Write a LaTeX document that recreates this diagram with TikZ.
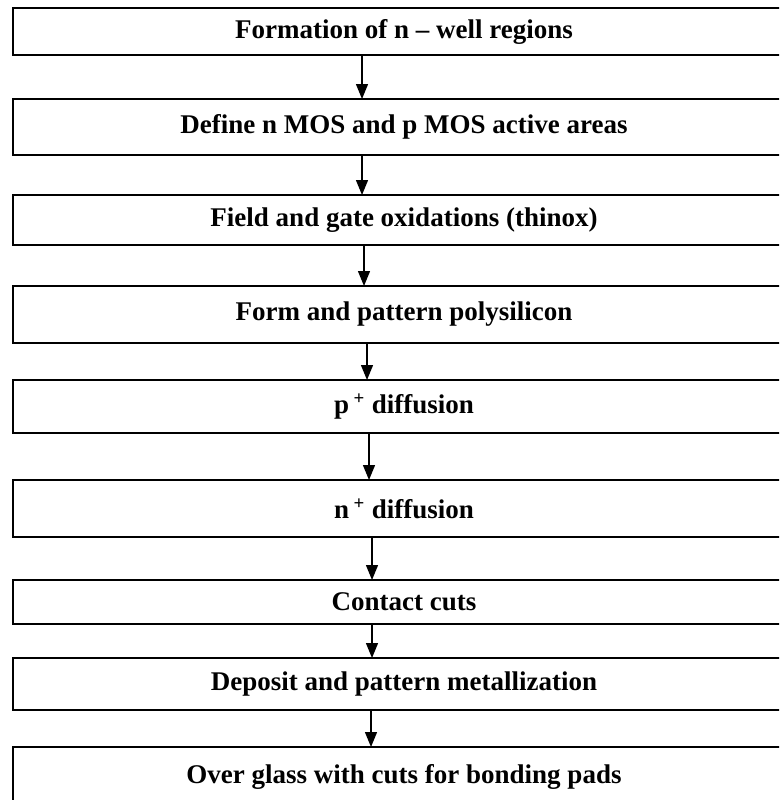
\documentclass[tikz,border=0pt]{standalone}
\usepackage{fontspec}
\setmainfont{Liberation Serif}
\usetikzlibrary{positioning,arrows.meta}

\begin{document}
\begin{tikzpicture}[x=1pt, y=-1pt, >={Triangle[length=15pt,width=12pt]},
  font=\fontsize{27}{32}\selectfont\bfseries,
  stepbox/.style={draw, line width=2pt, minimum width=782pt, inner sep=0pt, outer sep=0pt, align=center},
  flow/.style={->, line width=1.3pt}]
\useasboundingbox (0,0) rectangle (779,800);
\clip (0,0) rectangle (779,800);
% process steps
\node[stepbox, minimum height=47pt] (s1) at (404,31.5) {Formation of n -- well regions};
\node[stepbox, minimum height=56pt, below=44pt of s1] (s2) {Define n MOS and p MOS active areas};
\node[stepbox, minimum height=50pt, below=40pt of s2] (s3) {Field and gate oxidations (thinox)};
\node[stepbox, minimum height=57pt, below=41pt of s3] (s4) {Form and pattern polysilicon};
\node[stepbox, minimum height=53pt, below=37pt of s4] (s5) {p\,\textsuperscript{+} diffusion};
\node[stepbox, minimum height=57pt, below=47pt of s5] (s6) {n\,\textsuperscript{+} diffusion};
\node[stepbox, minimum height=44pt, below=43pt of s6] (s7) {Contact cuts};
\node[stepbox, minimum height=52pt, below=34pt of s7] (s8) {Deposit and pattern metallization};
\node[stepbox, minimum height=60pt, below=37pt of s8] (s9) {Over glass with cuts for bonding pads};
% arrows, slightly left of the box centres
\foreach \a/\b/\dx in {s1/s2/-42, s2/s3/-42, s3/s4/-40, s4/s5/-37, s5/s6/-35, s6/s7/-32, s7/s8/-32, s8/s9/-33}
  \draw[flow] ([xshift=\dx pt]\a.south) -- ([xshift=\dx pt]\b.north);
\end{tikzpicture}
\end{document}
